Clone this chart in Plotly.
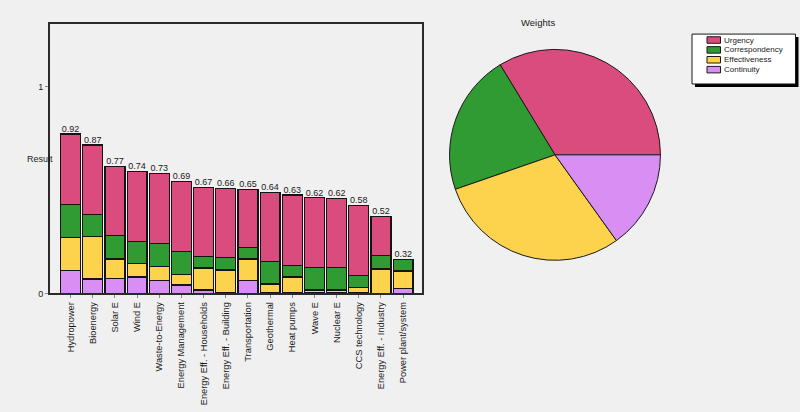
import plotly.graph_objects as go

W, H = 800, 412

categories = ["Hydropower", "Bioenergy", "Solar E", "Wind E", "Waste-to-Energy",
              "Energy Management", "Energy Eff. - Households", "Energy Eff. - Building",
              "Transportation", "Geothermal", "Heat pumps", "Wave E", "Nuclear E",
              "CCS technology", "Energy Eff. - Industry", "Power plant/system"]
continuity     = [0.112, 0.070, 0.073, 0.080, 0.062, 0.040, 0.016, 0.004, 0.062, 0.006, 0.005, 0.005, 0.005, 0.006, 0.000, 0.024]
effectiveness  = [0.159, 0.206, 0.094, 0.065, 0.067, 0.051, 0.107, 0.109, 0.104, 0.039, 0.075, 0.012, 0.012, 0.021, 0.118, 0.084]
correspondency = [0.161, 0.105, 0.112, 0.105, 0.112, 0.112, 0.057, 0.062, 0.057, 0.108, 0.056, 0.109, 0.109, 0.058, 0.064, 0.056]
urgency        = [0.340, 0.338, 0.337, 0.340, 0.340, 0.339, 0.332, 0.332, 0.279, 0.337, 0.341, 0.337, 0.333, 0.341, 0.190, 0.000]
score_labels   = ["0.92", "0.87", "0.77", "0.74", "0.73", "0.69", "0.67", "0.66",
                  "0.65", "0.64", "0.63", "0.62", "0.62", "0.58", "0.52", "0.32"]

criteria = ["Urgency", "Correspondency", "Effectiveness", "Continuity"]
weights  = [0.337, 0.216, 0.296, 0.151]
colors = {"Urgency": "#DA4C7D", "Correspondency": "#2F9B32",
          "Effectiveness": "#FDD24C", "Continuity": "#D98EF4"}

BG = "#F0F0F0"
FONT = "Liberation Sans, Arial, sans-serif"
TXT = "#1a1a1a"


def px(x):
    return x / W


def py(y):
    return 1 - y / H


fig = go.Figure()
for name, vals in [("Continuity", continuity), ("Effectiveness", effectiveness),
                   ("Correspondency", correspondency), ("Urgency", urgency)]:
    fig.add_trace(go.Bar(x=categories, y=vals, name=name, width=0.9,
                         marker=dict(color=colors[name], line=dict(color="#141414", width=1.3)),
                         showlegend=False, hoverinfo="skip"))

totals = [a + b + c + d for a, b, c, d in zip(continuity, effectiveness, correspondency, urgency)]
fig.add_trace(go.Scatter(x=categories, y=totals, mode="text", text=score_labels,
                         textposition="top center", cliponaxis=False,
                         textfont=dict(size=9, color=TXT, family=FONT),
                         showlegend=False, hoverinfo="skip"))

# first slice starts at 3 o'clock and runs counterclockwise
first_angle = 360 * weights[0] / sum(weights)
fig.add_trace(go.Pie(labels=criteria, values=weights, sort=False, direction="counterclockwise",
                     rotation=90 - first_angle, textinfo="none", hoverinfo="skip", showlegend=False,
                     marker=dict(colors=[colors[c] for c in criteria],
                                 line=dict(color="#1a1a1a", width=1)),
                     domain=dict(x=[px(448.5), px(661.5)], y=[py(263.5), py(50)])))

fig.update_layout(
    width=W, height=H, margin=dict(l=0, r=0, t=0, b=0),
    paper_bgcolor=BG, plot_bgcolor=BG, barmode="stack", bargap=0.1,
    font=dict(family=FONT, size=9, color=TXT),
    xaxis=dict(domain=[px(50), px(422)], type="category", range=[-0.93, 15.85],
               showline=True, linecolor="#2a2a2a", linewidth=2, mirror=True,
               ticks="outside", ticklen=3, tickcolor="#888", tickangle=-90,
               tickfont=dict(size=9.3, color=TXT, family=FONT), showgrid=False, zeroline=False),
    yaxis=dict(domain=[py(297), py(24)], range=[0, 1.306], tickvals=[0, 1], ticktext=["0", "1"],
               showline=True, linecolor="#2a2a2a", linewidth=2, mirror=True,
               ticks="outside", ticklen=3, tickcolor="#888",
               tickfont=dict(size=9, color=TXT, family=FONT), showgrid=False, zeroline=False),
)

ann = [
    dict(text="Result", x=px(25), y=py(161), xref="paper", yref="paper", showarrow=False,
         font=dict(size=9, color=TXT, family=FONT)),
    dict(text="Weights", x=px(557), y=py(15.5), xref="paper", yref="paper", showarrow=False,
         font=dict(size=9.5, color=TXT, family=FONT)),
]
shapes = [
    dict(type="rect", xref="paper", yref="paper", x0=px(695), x1=px(798.5), y0=py(88), y1=py(37.5),
         fillcolor="#000000", line=dict(width=0), layer="below"),
    dict(type="rect", xref="paper", yref="paper", x0=px(692), x1=px(795.5), y0=py(85), y1=py(34.5),
         fillcolor="#FFFFFF", line=dict(color="#1a1a1a", width=1), layer="below"),
]
for i, c in enumerate(criteria):
    yc = 40.5 + 10 * i
    shapes.append(dict(type="rect", xref="paper", yref="paper", x0=px(707), x1=px(720.5),
                       y0=py(yc + 3.3), y1=py(yc - 3.3), fillcolor=colors[c],
                       line=dict(color="#1a1a1a", width=1)))
    ann.append(dict(text=c, x=px(723), y=py(yc), xref="paper", yref="paper", xanchor="left",
                    yanchor="middle", showarrow=False, borderpad=0,
                    font=dict(size=8, color=TXT, family=FONT)))

fig.update_layout(annotations=ann, shapes=shapes)
fig.write_html("out.html", config={"displayModeBar": False},
               post_script="document.body.style.margin='0';document.body.style.overflow='hidden';")
